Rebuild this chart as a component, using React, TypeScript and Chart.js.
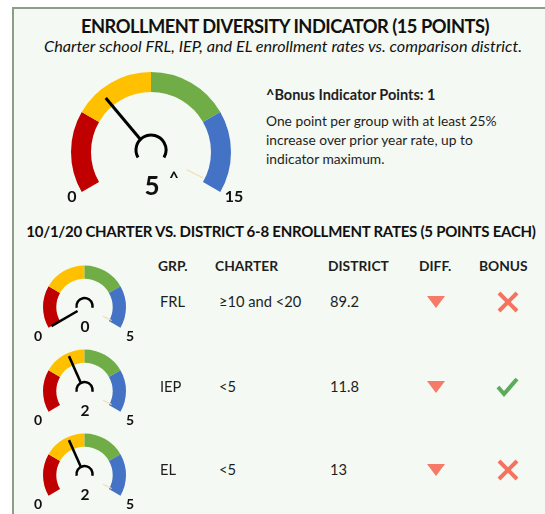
import React, { useEffect, useRef } from "react";
import { Chart, registerables } from "chart.js";

Chart.register(...registerables);

// ---------- data ----------
const SEGMENT_COLORS = ["#c00000", "#ffc000", "#70ad47", "#4472c4"];
const MAIN_SEGMENTS = [3.75, 3.75, 3.75, 3.75]; // sums to 15 points
const MAIN_VALUE = 5;
const MAIN_TICKS = ["0", "15"];
const BONUS_POINTS = 1;

const GROUPS = ["FRL", "IEP", "EL"];
const GROUP_SEGMENTS = [1.25, 1.25, 1.25, 1.25]; // sums to 5 points
const GROUP_SCORES = [0, 2, 2];
const GROUP_TICKS = ["0", "5"];
const CHARTER_RATES = ["≥10 and <20", "<5", "<5"];
const DISTRICT_RATES = ["89.2", "11.8", "13"];
const DIFF_DIRECTION = ["down", "down", "down"];
const BONUS_EARNED = [false, true, false];
const HEADERS = ["GRP.", "CHARTER", "DISTRICT", "DIFF.", "BONUS"];

const FONT = "Lato, 'Open Sans', sans-serif";

// ---------- gauge plugin ----------
const gaugePlugin = {
  id: "gaugeNeedle",
  afterDatasetsDraw(chart: any, _args: any, opts: any) {
    const meta = chart.getDatasetMeta(0);
    const arc: any = meta.data[0];
    if (!arc) return;
    const { x: cx, y: cy, outerRadius: R } = arc.getProps(["x", "y", "outerRadius"], true);
    const data = chart.data.datasets[0].data as number[];
    const max = data.reduce((a: number, b: number) => a + b, 0);
    const rot = ((chart.options.rotation as number) - 90) * Math.PI / 180;
    const circ = (chart.options.circumference as number) * Math.PI / 180;
    const ctx = chart.ctx as CanvasRenderingContext2D;
    ctx.save();

    // faint marker near max end
    const fa = rot + 0.985 * circ;
    ctx.strokeStyle = "#f3dcb4";
    ctx.lineWidth = 1.2;
    ctx.beginPath();
    ctx.moveTo(cx + Math.cos(fa) * R * 0.5, cy + Math.sin(fa) * R * 0.5);
    ctx.lineTo(cx + Math.cos(fa) * R * 0.73, cy + Math.sin(fa) * R * 0.73);
    ctx.stroke();

    // needle
    const a = rot + (opts.value / max) * circ;
    ctx.strokeStyle = "#000";
    ctx.lineWidth = opts.needleWidth;
    ctx.lineCap = "butt";
    ctx.beginPath();
    ctx.moveTo(cx + Math.cos(a) * opts.hubR, cy + Math.sin(a) * opts.hubR);
    ctx.lineTo(cx + Math.cos(a) * R * opts.needleLen, cy + Math.sin(a) * R * opts.needleLen);
    ctx.stroke();

    // hub (open at the bottom)
    const gap = opts.hubGap * Math.PI / 180;
    ctx.lineWidth = opts.hubWidth;
    ctx.beginPath();
    ctx.arc(cx, cy - opts.hubDy, opts.hubR, Math.PI - gap, 2 * Math.PI + gap, false);
    ctx.stroke();

    // labels
    ctx.fillStyle = "#111";
    ctx.textAlign = "center";
    ctx.textBaseline = "middle";
    ctx.font = `bold ${opts.tickSize}px ${FONT}`;
    ctx.fillText(opts.ticks[0], cx + opts.tickDx[0], cy + opts.tickDy);
    ctx.fillText(opts.ticks[1], cx + opts.tickDx[1], cy + opts.tickDy);
    ctx.font = `bold ${opts.valueSize}px ${FONT}`;
    ctx.fillText(String(opts.value), cx + opts.valueDx, cy + opts.valueDy);
    if (opts.caret) {
      ctx.font = `bold ${opts.caretSize}px ${FONT}`;
      ctx.fillText("^", cx + opts.caretDx, cy + opts.caretDy);
    }
    ctx.restore();
  },
};

type GaugeProps = {
  cx: number; cy: number; R: number;
  box: { left: number; top: number; width: number; height: number };
  segments: number[]; value: number; cutout: string; style: any;
};

function Gauge({ cx, cy, R, box, segments, value, cutout, style }: GaugeProps) {
  const ref = useRef<HTMLCanvasElement>(null);
  useEffect(() => {
    if (!ref.current) return;
    const chart = new Chart(ref.current, {
      type: "doughnut",
      data: {
        labels: segments.map((_, i) => `s${i}`),
        datasets: [{ data: segments, backgroundColor: SEGMENT_COLORS, borderWidth: 0 }],
      },
      options: {
        responsive: false,
        maintainAspectRatio: false,
        animation: false,
        devicePixelRatio: 1,
        rotation: -120,
        circumference: 240,
        cutout,
        events: [],
        layout: {
          padding: {
            left: cx - R - box.left,
            top: cy - R - box.top,
            right: box.left + box.width - (cx + R),
            bottom: box.top + box.height - (cy + R / 2),
          },
        },
        plugins: {
          legend: { display: false },
          tooltip: { enabled: false },
          gaugeNeedle: { value, ...style },
        } as any,
      },
      plugins: [gaugePlugin],
    });
    return () => chart.destroy();
  }, []);
  return (
    <canvas
      ref={ref}
      width={box.width}
      height={box.height}
      style={{ position: "absolute", left: box.left, top: box.top, width: box.width, height: box.height }}
    />
  );
}

function Txt({ x, y, size, bold, italic, align, color, spacing, children }: any) {
  return (
    <div
      style={{
        position: "absolute",
        left: x,
        top: y - size * 0.6,
        lineHeight: `${size * 1.2}px`,
        fontSize: size,
        fontFamily: FONT,
        fontWeight: bold ? 700 : 400,
        fontStyle: italic ? "italic" : "normal",
        letterSpacing: spacing ? `${spacing}px` : undefined,
        color: color || "#1a1a1a",
        whiteSpace: "nowrap",
        transform: align === "center" ? "translateX(-50%)" : undefined,
      }}
    >
      {children}
    </div>
  );
}

const ROW_Y = [302, 387, 470];
const GAUGE_CY = [306.5, 390.5, 474.5];
const COL_X = [158, 215, 328, 419, 479];

export default function App() {
  const mainStyle = {
    needleWidth: 3, needleLen: 0.88, hubR: 15, hubWidth: 3, hubGap: 30, hubDy: 2,
    ticks: MAIN_TICKS, tickSize: 16, tickDx: [-79, 83], tickDy: 45,
    valueSize: 26, valueDx: 1, valueDy: 35,
    caret: BONUS_POINTS > 0, caretSize: 17, caretDx: 23, caretDy: 27,
  };
  const smallStyle = {
    needleWidth: 2.5, needleLen: 0.92, hubR: 8, hubWidth: 2.5, hubGap: 12, hubDy: 1,
    ticks: GROUP_TICKS, tickSize: 14, tickDx: [-46.5, 45.5], tickDy: 29,
    valueSize: 15.5, valueDx: 0.5, valueDy: 19.5, caret: false,
  };
  return (
    <div style={{ position: "absolute", left: 0, top: 0, width: 545, height: 514, overflow: "hidden", background: "#fff" }}>
      <div
        style={{
          position: "absolute", left: 12, top: 7, width: 560, height: 540,
          border: "2px solid #8e9d88", background: "#f4f9f3", boxSizing: "border-box",
        }}
      />
      <Txt x={285} y={27} size={18.3} bold align="center" color="#111" spacing={-0.5}>ENROLLMENT DIVERSITY INDICATOR (15 POINTS)</Txt>
      <Txt x={283} y={46} size={16.2} italic align="center" color="#111">Charter school FRL, IEP, and EL enrollment rates vs. comparison district.</Txt>

      <Gauge
        cx={151} cy={152} R={80}
        box={{ left: 55, top: 62, width: 200, height: 150 }}
        segments={MAIN_SEGMENTS} value={MAIN_VALUE} cutout="75%" style={mainStyle}
      />

      <Txt x={266} y={95} size={14.5} bold color="#1e1e1e">^Bonus Indicator Points: {BONUS_POINTS}</Txt>
      <Txt x={266} y={121} size={13.8} color="#1e1e1e">One point per group with at least 25%</Txt>
      <Txt x={266} y={140} size={13.8} color="#1e1e1e">increase over prior year rate, up to</Txt>
      <Txt x={266} y={159} size={13.8} color="#1e1e1e">indicator maximum.</Txt>

      <Txt x={281} y={231} size={15} bold align="center" color="#111" spacing={-0.25}>10/1/20 CHARTER VS. DISTRICT 6-8 ENROLLMENT RATES (5 POINTS EACH)</Txt>

      {HEADERS.map((h, i) => (
        <Txt key={h} x={COL_X[i]} y={266} size={13.8} bold color="#1e1e1e">{h}</Txt>
      ))}

      {GROUPS.map((g, i) => (
        <React.Fragment key={g}>
          <Gauge
            cx={84.5} cy={GAUGE_CY[i]} R={41.5}
            box={{ left: 25, top: GAUGE_CY[i] - 52, width: 120, height: 88 }}
            segments={GROUP_SEGMENTS} value={GROUP_SCORES[i]} cutout="68%" style={smallStyle}
          />
          <Txt x={160} y={ROW_Y[i]} size={14.7} color="#1e1e1e">{g}</Txt>
          <Txt x={219} y={ROW_Y[i]} size={14.7} color="#1e1e1e">{CHARTER_RATES[i]}</Txt>
          <Txt x={330} y={ROW_Y[i]} size={14.7} color="#1e1e1e">{DISTRICT_RATES[i]}</Txt>
        </React.Fragment>
      ))}

      <svg width={545} height={514} style={{ position: "absolute", left: 0, top: 0 }}>
        {GROUPS.map((g, i) => {
          const y = ROW_Y[i];
          return (
            <g key={g}>
              {DIFF_DIRECTION[i] === "down" ? (
                <polygon points={`427,${y - 6} 445,${y - 6} 436,${y + 6}`} fill="#f57a67" />
              ) : (
                <polygon points={`427,${y + 6} 445,${y + 6} 436,${y - 6}`} fill="#5aab5a" />
              )}
              {BONUS_EARNED[i] ? (
                <polyline points={`498,${y} 504,${y + 7} 517,${y - 8}`} fill="none" stroke="#5aab5a" strokeWidth={4} />
              ) : (
                <g stroke="#f4735f" strokeWidth={4}>
                  <line x1={499} y1={y - 9} x2={517} y2={y + 9} />
                  <line x1={517} y1={y - 9} x2={499} y2={y + 9} />
                </g>
              )}
            </g>
          );
        })}
      </svg>
    </div>
  );
}
